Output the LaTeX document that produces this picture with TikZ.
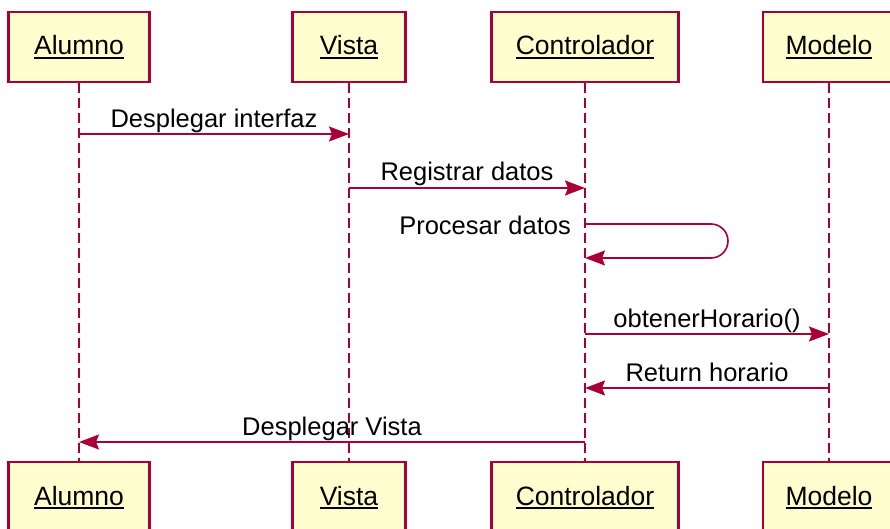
\documentclass[tikz,border=0pt]{standalone}
\usepackage{fontspec}
\setmainfont{Liberation Sans}
\usetikzlibrary{arrows.meta}
\definecolor{umlred}{HTML}{A80036}
\definecolor{umlfill}{HTML}{FEFECE}
% underlined participant name
\newcommand{\ulname}[1]{\setbox0\hbox{#1}\rlap{\rule[-3.6pt]{\wd0}{1.7pt}}\box0}
\tikzset{
  participant/.style={draw=umlred, fill=umlfill, line width=2.2pt, inner sep=0pt,
    minimum height=70pt, text height=16pt, text depth=0pt,
    font=\fontsize{26.5}{30}\selectfont},
  lifeline/.style={draw=umlred, line width=1.8pt, dash pattern=on 10pt off 5pt},
  msg/.style={draw=umlred, line width=1.6pt,
    -{Stealth[length=20pt, width=15pt, inset=3pt]}},
  msglabel/.style={anchor=base, inner sep=0pt, font=\fontsize{25.5}{30}\selectfont},
}
\begin{document}
\begin{tikzpicture}[x=1pt, y=-1pt]
\useasboundingbox (0,0) rectangle (890,529);

% participants, top row
\node[participant, minimum width=141pt] (A)  at (79,47)  {\ulname{Alumno}};
\node[participant, minimum width=113pt] (V)  at (349,47) {\ulname{Vista}};
\node[participant, minimum width=187pt] (C)  at (585,47) {\ulname{Controlador}};
\node[participant, minimum width=132pt] (M)  at (829,47) {\ulname{Modelo}};
% participants, bottom row
\node[participant, minimum width=141pt] (A2) at (79,497)  {\ulname{Alumno}};
\node[participant, minimum width=113pt] (V2) at (349,497) {\ulname{Vista}};
\node[participant, minimum width=187pt] (C2) at (585,497) {\ulname{Controlador}};
\node[participant, minimum width=132pt] (M2) at (829,497) {\ulname{Modelo}};

% lifelines
\draw[lifeline] (A.south) -- (A2.north);
\draw[lifeline] (V.south) -- (V2.north);
\draw[lifeline] (C.south) -- (C2.north);
\draw[lifeline] (M.south) -- (M2.north);

% messages
\draw[msg] (A.south |- 0,134) -- node[msglabel, midway, yshift=6.5pt] {Desplegar interfaz} (V.south |- 0,134);
\draw[msg] (V.south |- 0,188) -- node[msglabel, midway, yshift=7pt] {Registrar datos} (C.south |- 0,188);

% self message
\draw[msg, rounded corners=17pt] (C.south |- 0,224) -- (728,224) -- (728,258) -- (C.south |- 0,258);
\node[msglabel, anchor=base east] (proc) at ([xshift=-14pt]C.south |- 0,234) {Procesar datos};

\draw[msg] (C.south |- 0,334) -- node[msglabel, midway, yshift=7pt] {obtenerHorario()} (M.south |- 0,334);
\draw[msg] (M.south |- 0,388) -- node[msglabel, midway, yshift=7pt] {Return horario} (C.south |- 0,388);
\draw[msg] (C.south |- 0,442) -- node[msglabel, midway, yshift=6.5pt] {Desplegar Vista} (A.south |- 0,442);
\end{tikzpicture}
\end{document}
